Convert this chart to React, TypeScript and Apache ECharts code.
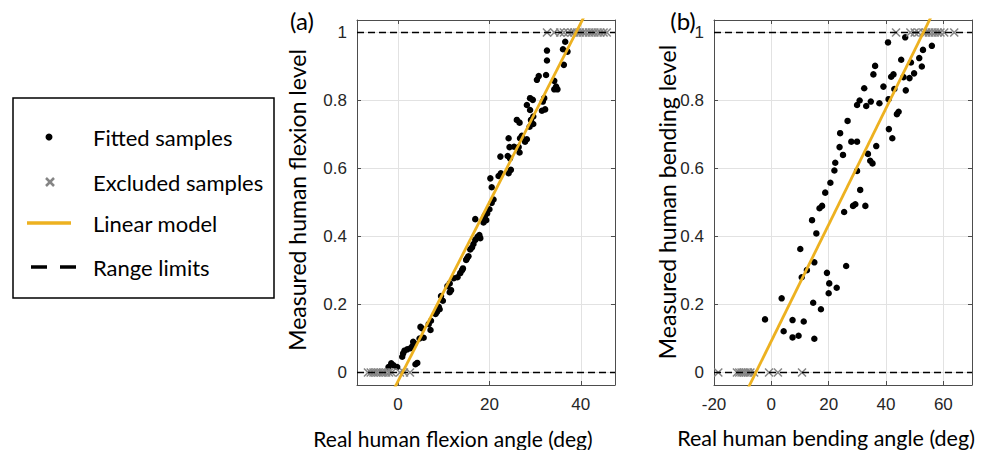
import React, { useEffect, useRef } from 'react';
import * as echarts from 'echarts';

// ---------- data ----------
const yTicks = [0, 0.2, 0.4, 0.6, 0.8, 1];
const xTicksA = [0, 20, 40];
const xTicksB = [-20, 0, 20, 40, 60];
const xRangeA = [-9, 47.5];
const xRangeB = [-20, 70];
const yRange = [-0.037, 1.037];
const rangeLimits = [0, 1];
const modelA = [0.02633, -0.0255]; // slope, intercept
const modelB = [0.01712, 0.0924];

const fittedA = [
  [36.6, 0.973], [32.6, 0.947], [36.1, 0.951], [37.1, 0.944], [32.6, 0.918], [36.3, 0.905],
  [32.4, 0.875], [30.8, 0.872], [30.4, 0.861], [34.2, 0.858], [34.6, 0.841], [34.2, 0.833],
  [34.9, 0.833], [28.9, 0.807], [29.5, 0.802], [32.0, 0.807], [31.7, 0.797], [28.2, 0.787],
  [28.9, 0.772], [32.2, 0.774], [31.5, 0.770], [29.6, 0.753], [29.1, 0.743], [26.0, 0.743],
  [26.6, 0.735], [29.6, 0.731], [28.8, 0.723], [27.1, 0.696], [26.7, 0.689], [28.2, 0.686],
  [27.8, 0.679], [24.2, 0.689], [25.4, 0.664], [26.4, 0.663], [24.4, 0.663], [26.6, 0.647],
  [22.4, 0.635], [24.0, 0.637], [24.5, 0.630], [24.7, 0.596], [24.2, 0.586], [22.5, 0.586],
  [22.0, 0.578], [20.2, 0.571], [20.5, 0.545], [20.9, 0.509], [20.5, 0.499], [20.0, 0.480],
  [19.5, 0.468], [19.0, 0.462], [18.9, 0.456], [19.3, 0.448], [18.7, 0.441], [16.9, 0.451],
  [17.8, 0.404], [18.0, 0.395], [17.4, 0.399], [16.9, 0.390], [16.5, 0.378], [16.2, 0.368],
  [15.8, 0.362], [15.4, 0.342], [15.1, 0.336], [14.9, 0.331], [14.2, 0.306], [14.0, 0.301],
  [13.6, 0.292], [13.0, 0.280], [12.2, 0.277], [11.3, 0.262], [10.8, 0.254], [11.6, 0.242],
  [11.3, 0.236], [9.4, 0.225], [9.8, 0.211], [8.9, 0.193], [9.1, 0.186], [8.5, 0.178],
  [8.2, 0.172], [7.2, 0.152], [6.7, 0.142], [7.1, 0.125], [4.9, 0.134], [5.2, 0.130],
  [5.6, 0.102], [4.7, 0.100], [3.3, 0.090], [3.6, 0.085], [3.1, 0.077], [2.7, 0.071],
  [2.0, 0.068], [1.4, 0.064], [1.1, 0.056], [0.9, 0.046], [-1.5, 0.027], [-1.0, 0.021],
  [-2.1, 0.016], [4.2, 0.028], [3.8, 0.024], [-0.2, 0.016],
];
const excludedTopA = [32.6, 34.2, 35.5, 36.3, 37.2, 38.0, 38.6, 39.2, 39.8, 40.5, 41.1, 41.8, 42.4, 43.0, 43.7, 44.3, 45.0, 45.7];
const excludedBottomA = [-6.6, -6.0, -5.4, -4.8, -4.3, -3.7, -3.2, -2.6, -2.0, -1.4, 0.4, 1.3, 2.6];

const fittedB = [
  [40.7, 0.971], [46.7, 0.986], [56.0, 0.961], [52.9, 0.949], [45.3, 0.920], [51.6, 0.925],
  [48.7, 0.912], [52.5, 0.900], [36.2, 0.902], [35.6, 0.877], [42.6, 0.877], [41.8, 0.870],
  [49.8, 0.880], [46.1, 0.869], [48.2, 0.866], [32.4, 0.836], [39.1, 0.841], [42.9, 0.834],
  [46.9, 0.830], [30.8, 0.800], [29.9, 0.787], [34.7, 0.797], [33.1, 0.784], [37.7, 0.792],
  [40.9, 0.804], [44.4, 0.767], [43.8, 0.760], [26.6, 0.740], [24.0, 0.704], [41.0, 0.716],
  [42.2, 0.689], [27.9, 0.679], [29.9, 0.679], [23.8, 0.663], [36.6, 0.666], [25.0, 0.640],
  [22.3, 0.617], [22.0, 0.594], [33.7, 0.643], [34.5, 0.623], [35.3, 0.615], [29.9, 0.593],
  [20.6, 0.558], [18.8, 0.529], [31.0, 0.537], [29.3, 0.495], [28.5, 0.490], [32.8, 0.490],
  [17.7, 0.490], [16.8, 0.483], [25.4, 0.472], [14.2, 0.448], [15.7, 0.409], [10.1, 0.363],
  [15.0, 0.324], [26.1, 0.313], [12.4, 0.301], [10.6, 0.280], [19.4, 0.293], [20.2, 0.262],
  [20.0, 0.233], [22.8, 0.249], [3.6, 0.218], [14.6, 0.205], [17.3, 0.186], [-2.2, 0.156],
  [7.4, 0.154], [11.3, 0.150], [4.3, 0.121], [7.4, 0.103], [9.5, 0.108], [15.0, 0.099],
];
const excludedTopB = [43.5, 48.5, 50.0, 51.3, 53.0, 54.0, 55.0, 56.0, 57.0, 58.0, 59.0, 60.3, 63.8];
const excludedBottomB = [-18.5, -12.0, -11.2, -10.4, -9.7, -9.0, -8.2, -7.3, -6.0, -0.8, 2.3, 10.7];

const legendLabels = ['Fitted samples', 'Excluded samples', 'Linear model', 'Range limits'];
const axisTitles = {
  xA: 'Real human flexion angle (deg)',
  yA: 'Measured human flexion level',
  xB: 'Real human bending angle (deg)',
  yB: 'Measured human bending level',
};

// ---------- styles ----------
const AX_COLOR = '#4d4d4d';
const TICK_COLOR = '#262626';
const GRID_COLOR = '#e2e2e2';
const MODEL_COLOR = '#EDB120';
const EXCL_COLOR = '#858585';
const LABEL_FONT = 'Lato';
const TICK_FONT = 'Liberation Sans';
const CROSS = 'path://M0,0L10,10M0,10L10,0';

function xAxisDef(gridIndex: number, range: number[], ticks: number[], position: string, main: boolean) {
  return {
    type: 'value', gridIndex, position, min: range[0], max: range[1],
    axisLine: { show: true, onZero: false, lineStyle: { color: AX_COLOR, width: 1 } },
    axisTick: { show: true, inside: true, length: 4, customValues: ticks, lineStyle: { color: AX_COLOR } },
    axisLabel: { show: main, customValues: ticks, color: TICK_COLOR, fontFamily: TICK_FONT, fontSize: 17, margin: 11 },
    splitLine: { show: main, lineStyle: { color: GRID_COLOR, width: 1 } },
  };
}
function yAxisDef(gridIndex: number, position: string, main: boolean) {
  return {
    type: 'value', gridIndex, position, min: yRange[0], max: yRange[1],
    axisLine: { show: true, onZero: false, lineStyle: { color: AX_COLOR, width: 1 } },
    axisTick: { show: true, inside: true, length: 4, customValues: yTicks, lineStyle: { color: AX_COLOR } },
    axisLabel: { show: main, customValues: yTicks, color: TICK_COLOR, fontFamily: TICK_FONT, fontSize: 17, margin: 10 },
    splitLine: { show: main, lineStyle: { color: GRID_COLOR, width: 1 } },
  };
}

function panelSeries(xi: number, yi: number, fitted: number[][], exTop: number[], exBottom: number[], xr: number[], model: number[]) {
  const excluded = [...exTop.map((x) => [x, 1]), ...exBottom.map((x) => [x, 0])];
  return [
    {
      type: 'scatter', xAxisIndex: xi, yAxisIndex: yi, data: fitted, symbol: 'circle', symbolSize: 6.5,
      itemStyle: { color: '#000', opacity: 1 }, z: 2,
    },
    {
      type: 'scatter', xAxisIndex: xi, yAxisIndex: yi, data: excluded, symbol: CROSS, symbolSize: 8,
      itemStyle: { color: 'rgba(0,0,0,0)', borderColor: EXCL_COLOR, borderWidth: 1.5, opacity: 1 }, z: 3,
    },
    ...rangeLimits.map((v) => ({
      type: 'line', xAxisIndex: xi, yAxisIndex: yi, data: xr.map((x) => [x, v]), symbol: 'none',
      lineStyle: { color: '#000', width: 1.5, type: [7, 4] }, z: 4,
    })),
    {
      type: 'line', xAxisIndex: xi, yAxisIndex: yi, data: xr.map((x) => [x, model[0] * x + model[1]]),
      symbol: 'none', clip: true, lineStyle: { color: MODEL_COLOR, width: 2.8 }, z: 5,
    },
  ];
}

function txt(text: string, x: number, y: number, size: number, align = 'left', rotation = 0) {
  return {
    type: 'text', x, y, rotation,
    style: {
      text, font: `${size}px ${LABEL_FONT}`, fill: '#000',
      align, verticalAlign: 'middle', textAlign: align, textVerticalAlign: 'middle',
    },
  };
}

export default function App() {
  const ref = useRef<HTMLDivElement>(null);
  useEffect(() => {
    if (!ref.current) return;
    const chart = echarts.init(ref.current, null, { renderer: 'svg' });
    const legendY = [137, 182, 223, 267];
    chart.setOption({
      animation: false,
      backgroundColor: '#fff',
      grid: [
        { left: 357, top: 20, width: 258, height: 365 },
        { left: 714, top: 20, width: 258, height: 365 },
      ],
      xAxis: [
        xAxisDef(0, xRangeA, xTicksA, 'bottom', true),
        xAxisDef(0, xRangeA, xTicksA, 'top', false),
        xAxisDef(1, xRangeB, xTicksB, 'bottom', true),
        xAxisDef(1, xRangeB, xTicksB, 'top', false),
      ],
      yAxis: [
        yAxisDef(0, 'left', true),
        yAxisDef(0, 'right', false),
        yAxisDef(1, 'left', true),
        yAxisDef(1, 'right', false),
      ],
      series: [
        ...panelSeries(0, 0, fittedA, excludedTopA, excludedBottomA, xRangeA, modelA),
        ...panelSeries(2, 2, fittedB, excludedTopB, excludedBottomB, xRangeB, modelB),
      ],
      graphic: [
        { type: 'rect', shape: { x: 13, y: 98, width: 261, height: 200 }, style: { fill: '#fff', stroke: '#000', lineWidth: 1.5 } },
        { type: 'circle', shape: { cx: 49, cy: legendY[0], r: 3.5 }, style: { fill: '#000' } },
        { type: 'line', shape: { x1: 46, y1: legendY[1] - 4, x2: 54, y2: legendY[1] + 4 }, style: { stroke: EXCL_COLOR, lineWidth: 2.5 } },
        { type: 'line', shape: { x1: 46, y1: legendY[1] + 4, x2: 54, y2: legendY[1] - 4 }, style: { stroke: EXCL_COLOR, lineWidth: 2.5 } },
        { type: 'line', shape: { x1: 27, y1: legendY[2], x2: 71, y2: legendY[2] }, style: { stroke: MODEL_COLOR, lineWidth: 3.5 } },
        { type: 'line', shape: { x1: 31, y1: legendY[3], x2: 47, y2: legendY[3] }, style: { stroke: '#000', lineWidth: 3.5 } },
        { type: 'line', shape: { x1: 60, y1: legendY[3], x2: 76, y2: legendY[3] }, style: { stroke: '#000', lineWidth: 3.5 } },
        ...legendLabels.map((l, i) => txt(l, 93, legendY[i], 22)),
        txt('(a)', 302, 20, 24, 'center'),
        txt('(b)', 683, 20, 24, 'center'),
        txt(axisTitles.xA, 453, 438, 21, 'center'),
        txt(axisTitles.xB, 826, 438, 21.5, 'center'),
        txt(axisTitles.yA, 297, 200, 23, 'center', Math.PI / 2),
        txt(axisTitles.yB, 667, 202, 23, 'center', Math.PI / 2),
      ],
    });
    return () => chart.dispose();
  }, []);
  return <div ref={ref} style={{ position: 'absolute', left: 0, top: 0, width: 1000, height: 450 }} />;
}
